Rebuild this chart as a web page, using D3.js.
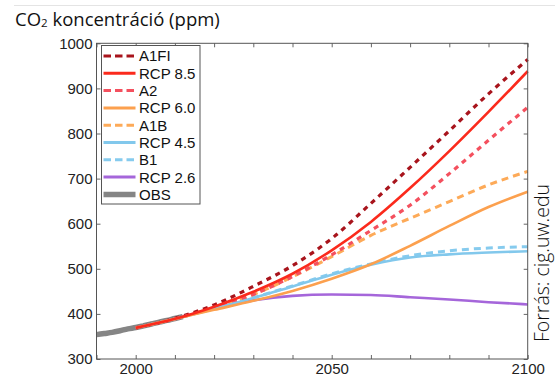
<!DOCTYPE html>
<html><head><meta charset="utf-8">
<script src="https://cdn.jsdelivr.net/npm/d3@7"></script>
<style>body{margin:0;background:#fff}svg{display:block}</style>
</head><body>
<script>
const years = [2000, 2010, 2020, 2030, 2040, 2050, 2060, 2070, 2080, 2090, 2100];
const A1FI  = [369, 390, 420, 461, 507, 567, 645, 725, 806, 888, 964];
const RCP85 = [369, 389, 416, 449, 489, 541, 604, 679, 761, 848, 938];
const A2    = [369, 389, 414, 443, 483, 531, 585, 641, 711, 785, 858];
const RCP60 = [369, 389, 409, 429, 451, 478, 510, 551, 595, 637, 671];
const A1B   = [369, 389, 414, 443, 482, 527, 574, 612, 649, 686, 716];
const RCP45 = [369, 389, 411, 435, 461, 487, 509, 525, 532, 536, 539];
const B1    = [369, 389, 412, 436, 462, 489, 511, 529, 540, 546, 549];
const RCP26 = [369, 389, 412, 430, 440, 443, 442, 437, 432, 426, 421];
const obsYears = [1990, 1992, 1994, 1996, 1998, 2000, 2002, 2004, 2006, 2008, 2010, 2012];
const OBS      = [354, 356.5, 359, 362.7, 366.8, 369.7, 373.5, 377.5, 381.9, 385.6, 389.9, 393.9];
const yTicks = [300, 400, 500, 600, 700, 800, 900, 1000];
const xTicks = [1990, 2000, 2010, 2020, 2030, 2040, 2050, 2060, 2070, 2080, 2090, 2100];
const xLabels = [2000, 2050, 2100];

const series = [
  {name: "A1FI",    vals: A1FI,  color: "#a8141c", dash: "5,5", w: 3.2},
  {name: "RCP 8.5", vals: RCP85, color: "#fb2a1c", dash: null,  w: 2.6},
  {name: "A2",      vals: A2,    color: "#f4505e", dash: "5,5", w: 3.2},
  {name: "RCP 6.0", vals: RCP60, color: "#fca04e", dash: null,  w: 2.6},
  {name: "A1B",     vals: A1B,   color: "#fdaa58", dash: "7,5", w: 3},
  {name: "RCP 4.5", vals: RCP45, color: "#82c8ec", dash: null,  w: 2.6},
  {name: "B1",      vals: B1,    color: "#86cbee", dash: "7,5", w: 3},
  {name: "RCP 2.6", vals: RCP26, color: "#a566da", dash: null,  w: 2.6},
  {name: "OBS",     vals: null,  color: "#858585", dash: null,  w: 5.5}
];
const drawOrder = ["OBS","B1","A1B","A2","A1FI","RCP 2.6","RCP 4.5","RCP 6.0","RCP 8.5"];

const W = 555, H = 376;
const m = {left: 96.5, right: 527.7, top: 43.3, bottom: 359};
const svg = d3.select("body").append("svg").attr("width", W).attr("height", H);

const x = d3.scaleLinear().domain([1990, 2100]).range([m.left, m.right]);
const y = d3.scaleLinear().domain([300, 1000]).range([m.bottom, m.top]);

// faint top rule
svg.append("line").attr("x1", 14).attr("x2", W).attr("y1", 5.5).attr("y2", 5.5)
  .attr("stroke", "#e4e4e4").attr("stroke-width", 1);

// title
const title = svg.append("text").attr("x", 15).attr("y", 26)
  .attr("font-family", "'Open Sans', sans-serif").attr("font-size", 18.5).attr("fill", "#111");
title.append("tspan").text("CO");
title.append("tspan").attr("font-size", 11.5).attr("dy", 1).text("2");
title.append("tspan").attr("dy", -1).text(" koncentráció (ppm)");

// lines
const line = d3.line().x(d => x(d[0])).y(d => y(d[1])).curve(d3.curveMonotoneX);
const g = svg.append("g");
drawOrder.forEach(n => {
  const s = series.find(q => q.name === n);
  const pts = s.vals ? years.map((yr, i) => [yr, s.vals[i]]) : obsYears.map((yr, i) => [yr, OBS[i]]);
  g.append("path").attr("d", line(pts)).attr("fill", "none")
    .attr("stroke", s.color).attr("stroke-width", s.w)
    .attr("stroke-dasharray", s.dash).attr("stroke-linecap", "butt");
});

// frame + inward ticks
const axisBottom = d3.axisBottom(x).tickValues(xTicks).tickSize(-4).tickFormat(d => xLabels.includes(d) ? d : "");
const axisTop = d3.axisTop(x).tickValues(xTicks).tickSize(-4).tickFormat("");
const axisLeft = d3.axisLeft(y).tickValues(yTicks).tickSize(-4).tickFormat(d3.format("d"));
const axisRight = d3.axisRight(y).tickValues(yTicks).tickSize(-4).tickFormat("");
function style(sel){
  sel.selectAll(".domain").remove();
  sel.selectAll(".tick line").attr("stroke", "#666");
  sel.selectAll("text").attr("font-family", "Arial, 'Liberation Sans', sans-serif").attr("font-size", 15).attr("fill", "#222");
}
svg.append("g").attr("transform", `translate(0,${m.bottom})`).call(axisBottom).call(style)
  .selectAll("text").attr("y", 14.5).attr("dy", 0);
svg.append("g").attr("transform", `translate(0,${m.top})`).call(axisTop).call(style);
svg.append("g").attr("transform", `translate(${m.left},0)`).call(axisLeft).call(style)
  .selectAll("text").attr("x", -4);
svg.append("g").attr("transform", `translate(${m.right},0)`).call(axisRight).call(style);
svg.append("rect").attr("x", m.left).attr("y", m.top).attr("width", m.right - m.left).attr("height", m.bottom - m.top)
  .attr("fill", "none").attr("stroke", "#555").attr("stroke-width", 1);

// legend
const lg = svg.append("g");
lg.append("rect").attr("x", 101.5).attr("y", 45.5).attr("width", 98.5).attr("height", 158.5)
  .attr("fill", "#fff").attr("stroke", "#555").attr("stroke-width", 1);
series.forEach((s, i) => {
  const yy = 56 + i * 17.3;
  lg.append("line").attr("x1", 103.5).attr("x2", 135.5).attr("y1", yy).attr("y2", yy)
    .attr("stroke", s.color).attr("stroke-width", s.name === "OBS" ? 5.5 : 3)
    .attr("stroke-dasharray", s.dash ? "7.5,4" : null);
  lg.append("text").attr("x", 139).attr("y", yy).attr("dy", "0.36em")
    .attr("font-family", "Arial, 'Liberation Sans', sans-serif").attr("font-size", 15).attr("fill", "#111")
    .text(s.name);
});

// source
svg.append("text").attr("transform", "translate(548.5,263) rotate(-90)")
  .attr("text-anchor", "middle").attr("font-family", "'Open Sans', sans-serif").attr("font-weight", 300)
  .attr("font-size", 19.5).attr("fill", "#111").text("Forrás: cig.uw.edu");
</script>
</body></html>
